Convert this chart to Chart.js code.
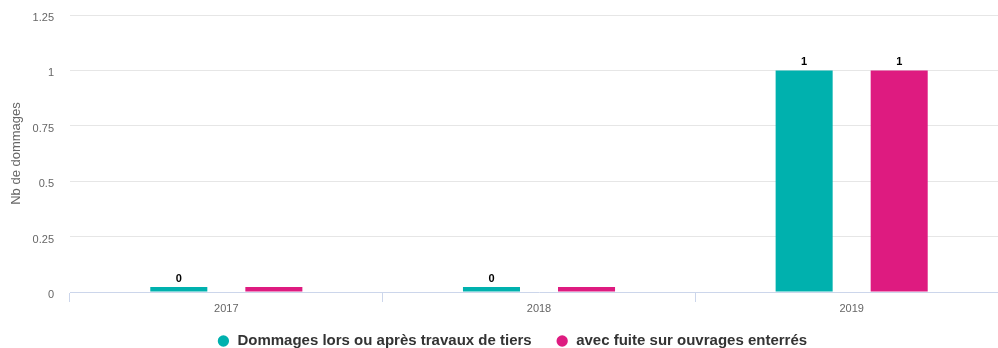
<!DOCTYPE html>
<html lang="fr">
<head>
<meta charset="utf-8">
<title>Nb de dommages</title>
<script src="https://cdn.jsdelivr.net/npm/chart.js@4"></script>
<style>
  html, body { margin: 0; padding: 0; background: #fff; overflow: hidden; }
  canvas { display: block; }
</style>
</head>
<body>
<canvas id="DommagesChart" width="1008" height="372"></canvas>
<script>
// ================= Data =================
const years = ['2017', '2018', '2019'];
const dommagesTiers = [0, 0, 1];      // Dommages lors ou après travaux de tiers
const fuiteEnterres = [0, 0, 1];      // avec fuite sur ouvrages enterrés
const yTickLabels = ['0', '0.25', '0.5', '0.75', '1', '1.25'];

const FONT = '"Liberation Sans", Arial, Helvetica, sans-serif';

// valeurs au-dessus des barres
const barValues = {
  id: 'barValues',
  afterDatasetsDraw(chart) {
    const ctx = chart.ctx;
    ctx.save();
    ctx.font = 'bold 11px ' + FONT;
    ctx.textAlign = 'center';
    ctx.textBaseline = 'alphabetic';
    ctx.lineJoin = 'round';
    chart.data.datasets.forEach((ds, i) => {
      const meta = chart.getDatasetMeta(i);
      meta.data.forEach((bar, j) => {
        const v = ds.data[j];
        if (v === 0 && !ds.showZero) return;
        const y = bar.y - 5;
        ctx.lineWidth = 2;
        ctx.strokeStyle = '#fff';
        ctx.strokeText(String(v), bar.x, y);
        ctx.fillStyle = '#000';
        ctx.fillText(String(v), bar.x, y);
      });
    });
    ctx.restore();
  }
};

// légende : remontée sous les libellés de l'axe x, légèrement décalée à droite
const legendShift = {
  id: 'legendShift',
  afterLayout(chart) {
    const lg = chart.legend;
    if (!lg) return;
    const dy = 309.5 - lg.top;
    lg.top += dy;
    lg.bottom += dy;
    lg.left += 8;
    lg.right += 8;
  }
};

const ctx = document.getElementById('DommagesChart').getContext('2d');

new Chart(ctx, {
  type: 'bar',
  data: {
    labels: years,
    datasets: [
      {
        label: 'Dommages lors ou après travaux de tiers',
        data: dommagesTiers,
        backgroundColor: '#00b1ae',
        showZero: true
      },
      {
        label: 'avec fuite sur ouvrages enterrés',
        data: fuiteEnterres,
        backgroundColor: '#de1b80',
        showZero: false
      }
    ]
  },
  options: {
    responsive: false,
    animation: false,
    layout: { padding: { top: 15, left: 0, right: 0, bottom: 0 } },
    datasets: {
      bar: {
        categoryPercentage: 0.608,
        barPercentage: 0.6,
        minBarLength: 5,
        borderWidth: 0
      }
    },
    plugins: {
      tooltip: { enabled: false },
      legend: {
        position: 'bottom',
        labels: {
          usePointStyle: true,
          pointStyle: 'circle',
          boxWidth: 13,
          boxHeight: 8,
          padding: 24,
          color: '#333',
          font: { family: FONT, size: 15, weight: 'bold' }
        }
      }
    },
    scales: {
      x: {
        grid: {
          offset: true,
          drawOnChartArea: false,
          drawTicks: true,
          tickLength: 10,
          color: '#ccd6eb'
        },
        border: { display: true, color: '#ccd6eb' },
        ticks: {
          padding: 0,
          color: '#666',
          maxRotation: 0,
          font: { family: FONT, size: 11 }
        },
        afterFit: (scale) => { scale.height = 31; }
      },
      y: {
        min: 0,
        max: 1.25,
        border: { display: false },
        grid: {
          drawTicks: false,
          color: (c) => c.tick && c.tick.value === 0 ? 'rgba(0,0,0,0)' : '#e6e6e6'
        },
        ticks: {
          stepSize: 0.25,
          padding: 16,
          labelOffset: 3,
          color: '#666',
          font: { family: FONT, size: 11 },
          callback: (value, i) => yTickLabels[i]
        },
        title: {
          display: true,
          text: 'Nb de dommages',
          color: '#666',
          padding: { top: 9, bottom: 0 },
          font: { family: FONT, size: 13 }
        },
        afterFit: (scale) => {
          scale.width = 70;
          scale.paddingTop = 0;
          scale.paddingBottom = 0;
        }
      }
    }
  },
  plugins: [barValues, legendShift]
});
</script>
</body>
</html>
